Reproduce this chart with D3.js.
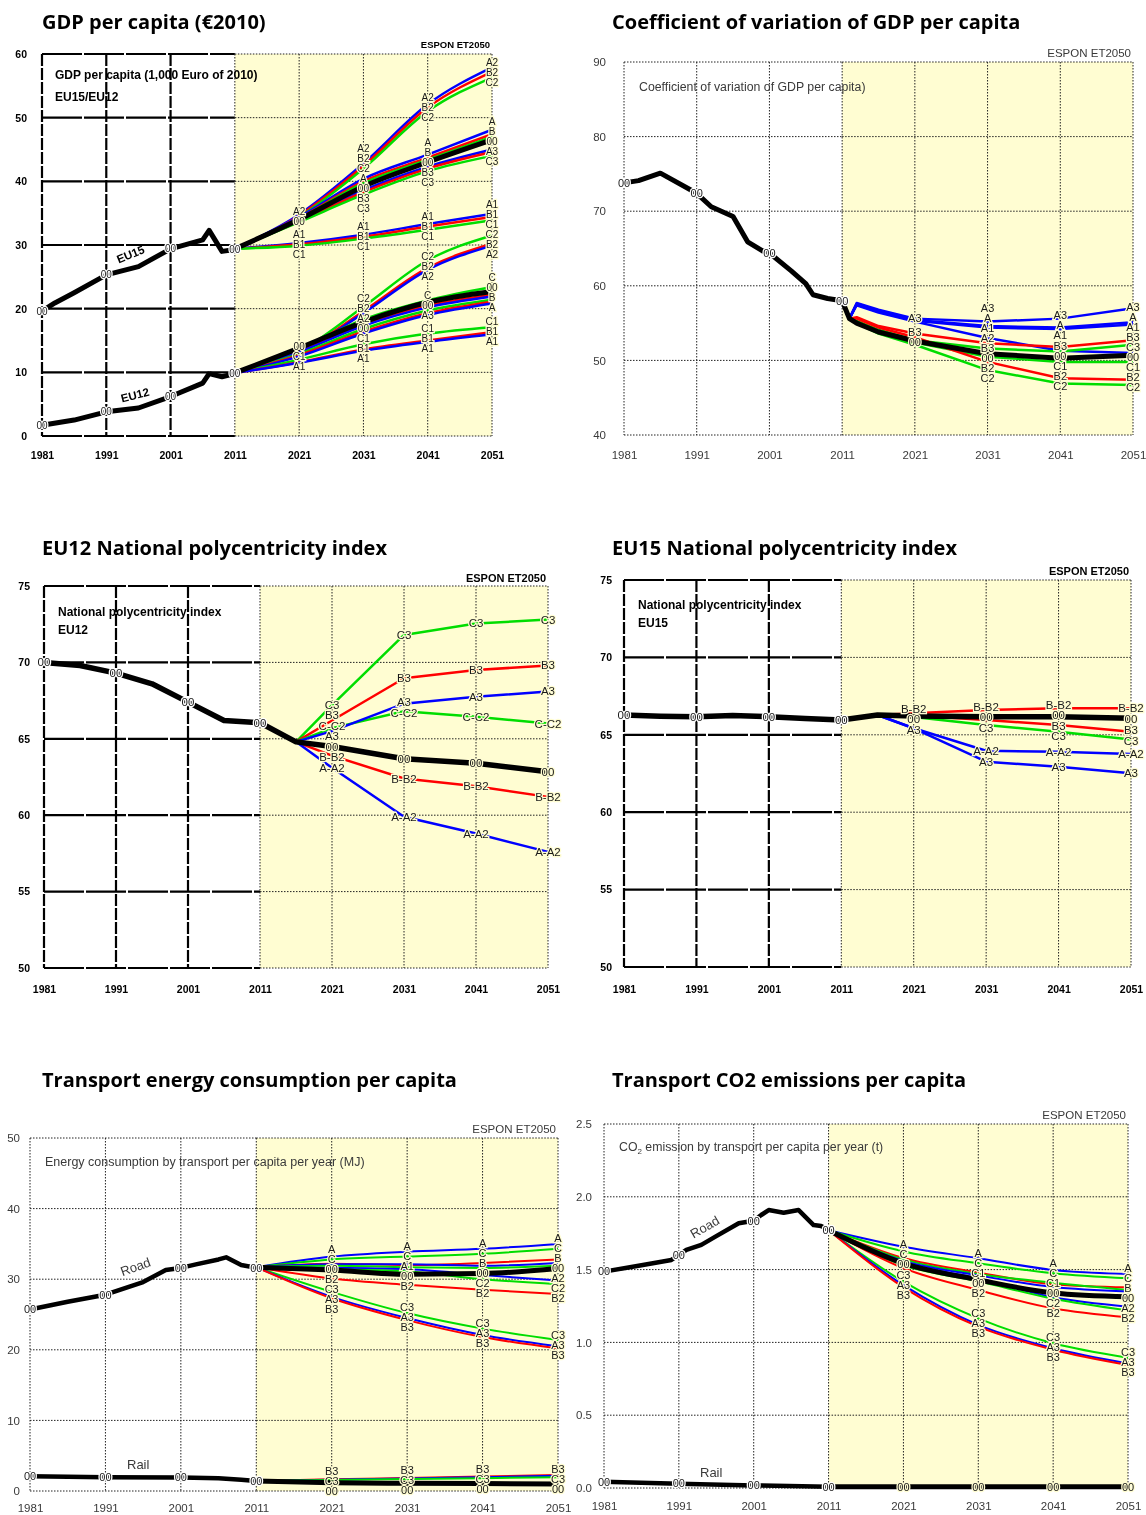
<!DOCTYPE html>
<html>
<head>
<meta charset="utf-8">
<script src="https://cdn.jsdelivr.net/npm/d3@7"></script>
<style>
body{margin:0;background:#fff}
svg{will-change:transform}
svg text{font-family:"Liberation Sans",Arial,sans-serif}
.title{font-family:"Open Sans",sans-serif;font-weight:700;font-size:20px}
</style>
</head>
<body>
<svg id="chart" width="1146" height="1515"></svg>
<script>
// ---- data ----
const decades = [1981, 1991, 2001, 2011, 2021, 2031, 2041, 2051];
const histLabelYears = [1981, 1991, 2001, 2011];
const futYears = [2011, 2021, 2031, 2041, 2051];

// GDP per capita (1,000 Euro of 2010)
const gdpTicks = [0, 10, 20, 30, 40, 50, 60];
const gdpEU15Hist = [[1981,19.6],[1983,20.9],[1986,22.5],[1991,25.3],[1996,26.6],[2001,29.4],[2006,30.8],[2007,32.3],[2009,29.0],[2011,29.3]];
const gdpEU12Hist = [[1981,1.7],[1986,2.5],[1991,3.8],[1996,4.4],[2001,6.2],[2006,8.3],[2007,9.8],[2009,9.3],[2011,9.8]];
const gdpEU15 = [
  {id:"A2", v:[29.4,34.8,42.8,52.1,57.9], at:[2021,2031,2041,2051]},
  {id:"B2", v:[29.4,34.6,42.4,51.6,57.2], at:[2031,2041,2051]},
  {id:"C2", v:[29.4,34.4,42.0,51.0,56.3], at:[2031,2041,2051]},
  {id:"A",  v:[29.4,34.4,40.4,44.2,48.1], at:[2031,2041,2051]},
  {id:"B",  v:[29.4,34.2,40.0,43.7,47.4], at:[2041,2051]},
  {id:"C",  v:[29.4,34.1,39.7,43.4,47.0], at:[]},
  {id:"00", v:[29.4,34.0,39.2,43.0,46.5], at:[2021,2031,2041,2051]},
  {id:"A3", v:[29.4,33.8,38.6,42.3,45.0], at:[2051]},
  {id:"B3", v:[29.4,33.7,38.3,42.0,44.6], at:[2031,2041]},
  {id:"C3", v:[29.4,33.6,37.9,41.6,44.0], at:[2031,2041,2051]},
  {id:"A1", v:[29.4,30.3,31.6,33.3,34.9], at:[2021,2031,2041,2051]},
  {id:"B1", v:[29.4,30.1,31.3,32.9,34.4], at:[2021,2031,2041,2051]},
  {id:"C1", v:[29.4,29.9,31.0,32.4,33.9], at:[2021,2031,2041,2051]}
];
const gdpEU12 = [
  {id:"C2", v:[9.9,13.3,20.3,27.6,31.5], at:[2031,2041,2051]},
  {id:"B2", v:[9.9,13.1,19.6,26.4,30.2], at:[2031,2041,2051]},
  {id:"A2", v:[9.9,13.0,19.3,26.1,29.9], at:[2031,2041,2051]},
  {id:"C",  v:[9.9,13.6,18.3,21.3,23.4], at:[2041,2051]},
  {id:"00", v:[9.9,13.8,17.9,21.0,22.7], at:[2021,2031,2041,2051]},
  {id:"B",  v:[9.9,13.4,17.6,20.5,22.2], at:[2051]},
  {id:"A",  v:[9.9,13.2,17.3,20.2,21.9], at:[2051]},
  {id:"C3", v:[9.9,12.9,16.8,19.7,21.4], at:[]},
  {id:"B3", v:[9.9,12.7,16.4,19.3,21.1], at:[]},
  {id:"A3", v:[9.9,12.5,16.1,19.0,20.8], at:[2041]},
  {id:"C1", v:[9.9,12.0,14.4,16.1,17.1], at:[2021,2031,2041,2051]},
  {id:"B1", v:[9.9,11.6,13.6,15.0,16.3], at:[2031,2041,2051]},
  {id:"A1", v:[9.9,11.5,13.4,14.8,16.0], at:[2021,2031,2041,2051]}
];

// Coefficient of variation of GDP per capita
const cvTicks = [40, 50, 60, 70, 80, 90];
const cvHist = [[1981,73.8],[1983,74.1],[1986,75.1],[1991,72.4],[1993,70.6],[1996,69.3],[1998,65.9],[2000,64.7],[2001,64.4],[2004,62.0],[2006,60.3],[2007,58.8],[2009,58.3],[2011,58.0]];
const cvYears = [2011, 2012, 2013, 2016, 2021, 2031, 2041, 2051];
const cvSeries = [
  {id:"A3", v:[58.0,55.6,57.7,56.8,55.6,55.2,55.6,57.0], at:[2021,2031,2041,2051]},
  {id:"A",  v:[58.0,55.6,57.6,56.6,55.4,54.6,54.4,55.1], at:[2031,2041,2051]},
  {id:"A1", v:[58.0,55.6,57.5,56.5,55.3,54.4,54.2,54.8], at:[2031,2041,2051]},
  {id:"A2", v:[58.0,55.6,57.4,56.4,55.2,53.0,51.3,51.0], at:[2031]},
  {id:"B3", v:[58.0,55.6,55.8,54.6,53.6,52.3,51.8,52.7], at:[2021,2031,2041,2051]},
  {id:"C3", v:[58.0,55.6,55.3,54.1,52.7,51.6,51.2,52.1], at:[2051]},
  {id:"00", v:[58.0,55.6,55.0,53.8,52.6,50.9,50.3,50.7], at:[2021,2031,2041,2051]},
  {id:"C1", v:[58.0,55.6,55.0,53.7,52.4,50.5,49.8,49.8], at:[2041,2051]},
  {id:"B2", v:[58.0,55.6,55.6,54.4,53.1,49.8,47.6,47.4], at:[2031,2041,2051]},
  {id:"C2", v:[58.0,55.6,55.0,53.6,52.1,48.7,46.9,46.7], at:[2031,2041,2051]}
];

// National polycentricity index
const polyTicks = [50, 55, 60, 65, 70, 75];
const polyYears = [2011, 2016, 2021, 2031, 2041, 2051];
const polyEU12Hist = [[1981,70.0],[1986,69.8],[1991,69.3],[1996,68.6],[2001,67.4],[2006,66.2],[2011,66.05]];
const polyEU12 = [
  {id:"C3",   v:[66.05,64.8,67.2,71.8,72.55,72.8], at:[2021,2031,2041,2051]},
  {id:"B3",   v:[66.05,64.8,66.2,68.96,69.5,69.8], at:[2021,2031,2041,2051]},
  {id:"C-C2", v:[66.05,64.8,65.7,66.8,66.45,66.0], at:[2021,2031,2041,2051]},
  {id:"A3",   v:[66.05,64.8,65.5,67.3,67.75,68.1], at:[2021,2031,2041,2051]},
  {id:"00",   v:[66.05,64.8,64.5,63.7,63.4,62.85], at:[2021,2031,2041,2051]},
  {id:"B-B2", v:[66.05,64.8,63.9,62.4,61.9,61.2], at:[2021,2031,2041,2051]},
  {id:"A-A2", v:[66.05,64.8,63.1,59.9,58.8,57.6], at:[2021,2031,2041,2051]}
];
const polyEU15Hist = [[1981,66.28],[1986,66.2],[1991,66.17],[1996,66.25],[2001,66.17],[2006,66.05],[2011,65.96]];
const polyEU15 = [
  {id:"B-B2", v:[65.96,66.28,66.39,66.6,66.71,66.71], at:[2021,2031,2041,2051]},
  {id:"00",   v:[65.96,66.28,66.21,66.17,66.17,66.07], at:[2021,2031,2041,2051]},
  {id:"B3",   v:[65.96,66.28,66.25,65.96,65.63,65.2], at:[2041,2051]},
  {id:"C3",   v:[65.96,66.28,66.15,65.63,65.2,64.7], at:[2031,2041,2051]},
  {id:"A-A2", v:[65.96,66.28,65.42,63.97,63.9,63.76], at:[2031,2041,2051]},
  {id:"A3",   v:[65.96,66.28,65.42,63.26,62.94,62.51], at:[2021,2031,2041,2051]}
];

// Transport energy consumption per capita per year (MJ)
const energyTicks = [0, 10, 20, 30, 40, 50];
const energyRoadHist = [[1981,25.7],[1986,26.8],[1991,27.8],[1996,29.6],[1999,31.3],[2001,31.6],[2003,32.1],[2006,32.8],[2007,33.1],[2009,32.0],[2011,31.6]];
const energyRailHist = [[1981,2.1],[1991,1.95],[2001,1.9],[2006,1.8],[2009,1.6],[2011,1.42]];
const energyRoad = [
  {id:"A",  v:[31.7,33.2,33.9,34.3,35.0], at:[2021,2031,2041,2051]},
  {id:"C",  v:[31.7,32.8,33.2,33.6,34.3], at:[2021,2031,2041,2051]},
  {id:"B",  v:[31.7,32.2,32.0,32.3,32.8], at:[2041,2051]},
  {id:"A1", v:[31.7,32.1,32.1,31.9,32.3], at:[2031]},
  {id:"C1", v:[31.7,31.9,31.7,31.6,31.9], at:[]},
  {id:"00", v:[31.7,31.3,30.7,30.8,31.5], at:[2021,2031,2041,2051]},
  {id:"A2", v:[31.7,31.6,31.4,30.6,29.8], at:[2051]},
  {id:"C2", v:[31.7,31.4,31.1,30.0,29.3], at:[2041,2051]},
  {id:"B2", v:[31.7,30.1,29.2,28.5,27.9], at:[2021,2031,2041,2051]},
  {id:"C3", v:[31.7,28.2,25.2,23.0,21.4], at:[2021,2031,2041,2051]},
  {id:"A3", v:[31.7,27.5,24.5,22.1,20.5], at:[2021,2031,2041,2051]},
  {id:"B3", v:[31.7,27.3,24.2,21.8,20.2], at:[2021,2031,2041,2051]}
];
const energyRail = [
  {id:"B3", v:[1.42,1.65,1.85,2.05,2.27], at:[2021,2031,2041,2051]},
  {id:"A3", v:[1.42,1.6,1.78,1.95,2.15], at:[]},
  {id:"C3", v:[1.42,1.55,1.7,1.82,1.95], at:[2021,2031,2041,2051]},
  {id:"00", v:[1.42,1.18,1.1,1.05,1.0], at:[2021,2031,2041,2051]}
];

// Transport CO2 emissions per capita per year (t)
const co2Ticks = [0, 0.5, 1.0, 1.5, 2.0, 2.5];
const co2RoadHist = [[1981,1.486],[1986,1.53],[1990,1.566],[1991,1.6],[1992,1.635],[1994,1.67],[1996,1.73],[1999,1.818],[2001,1.836],[2002,1.875],[2003,1.909],[2005,1.89],[2007,1.909],[2009,1.806],[2010,1.8],[2011,1.772]];
const co2RailHist = [[1981,0.043],[1991,0.03],[2001,0.018],[2011,0.008]];
const co2Road = [
  {id:"A",  v:[1.77,1.657,1.578,1.497,1.47], at:[2021,2031,2041,2051]},
  {id:"C",  v:[1.77,1.625,1.543,1.475,1.44], at:[2021,2031,2041,2051]},
  {id:"B",  v:[1.77,1.58,1.48,1.40,1.378], at:[2051]},
  {id:"C1", v:[1.77,1.57,1.47,1.41,1.36], at:[2031,2041]},
  {id:"A1", v:[1.77,1.56,1.46,1.38,1.35], at:[]},
  {id:"00", v:[1.77,1.543,1.43,1.34,1.314], at:[2021,2031,2041,2051]},
  {id:"A2", v:[1.77,1.55,1.44,1.31,1.245], at:[2051]},
  {id:"C2", v:[1.77,1.53,1.42,1.30,1.22], at:[2041]},
  {id:"B2", v:[1.77,1.51,1.36,1.234,1.172], at:[2031,2041,2051]},
  {id:"C3", v:[1.77,1.417,1.165,0.994,0.895], at:[2021,2031,2041,2051]},
  {id:"A3", v:[1.77,1.393,1.12,0.96,0.856], at:[2021,2031,2041,2051]},
  {id:"B3", v:[1.77,1.378,1.108,0.95,0.845], at:[2021,2031,2041,2051]}
];
const co2Rail = [
  {id:"00", v:[0.008,0.008,0.008,0.008,0.008], at:[2021,2031,2041,2051]}
];

// ---- drawing ----
const svg = d3.select("#chart");
const YELLOW = "#fffdd2";
const colorOf = d3.scaleOrdinal().domain(["A","B","C","0"]).range(["#0000ff","#ff0000","#00dd00","#000000"]);

// push labels of one decade column apart so that they stack like the original
function spread(items, gap) {
  items.sort((a, b) => (a.y - b.y) || (a.order - b.order));
  let clusters = items.map(d => ({items: [d], c: d.y}));
  const top = c => c.c - (c.items.length - 1) * gap / 2;
  const bot = c => c.c + (c.items.length - 1) * gap / 2;
  let changed = true;
  while (changed) {
    changed = false;
    for (let i = 0; i < clusters.length - 1; i++) {
      if (bot(clusters[i]) + gap > top(clusters[i + 1])) {
        const its = clusters[i].items.concat(clusters[i + 1].items);
        clusters.splice(i, 2, {items: its, c: d3.mean(its, d => d.y)});
        changed = true;
        break;
      }
    }
  }
  clusters.forEach(c => c.items.forEach((d, i) => d.ly = top(c) + i * gap));
}

function drawPanel(cfg) {
  const g = svg.append("g");
  const x = d3.scaleLinear().domain([1981, 2051]).range([cfg.left, cfg.right]);
  const y = d3.scaleLinear().domain(cfg.yDomain).range([cfg.bottom, cfg.top]);
  const xs = x(2011);
  const textCol = cfg.bold ? "#000" : "#3a3a3a";

  g.append("rect")
    .attr("x", xs).attr("y", cfg.top)
    .attr("width", cfg.right - xs).attr("height", cfg.bottom - cfg.top)
    .attr("fill", YELLOW);

  const dot = {c: "#222", w: 1, d: "1.5,1.5"};
  const histH = cfg.bold ? {c: "#000", w: 2.2, d: "40,2"} : dot;
  const histV = cfg.bold ? {c: "#000", w: 2.2, d: "12,2"} : dot;
  const style = (sel, s) => sel.attr("stroke", s.c).attr("stroke-width", s.w)
    .attr("stroke-dasharray", s.d).attr("fill", "none");

  style(g.selectAll(".hgl").data(cfg.yTicks).join("line")
    .attr("x1", cfg.left).attr("x2", xs).attr("y1", d => y(d)).attr("y2", d => y(d)), histH);
  style(g.selectAll(".hgr").data(cfg.yTicks).join("line")
    .attr("x1", xs).attr("x2", cfg.right).attr("y1", d => y(d)).attr("y2", d => y(d)), dot);
  style(g.selectAll(".vgl").data(decades.filter(d => d < 2011)).join("line")
    .attr("x1", d => x(d)).attr("x2", d => x(d)).attr("y1", cfg.top).attr("y2", cfg.bottom), histV);
  style(g.selectAll(".vgr").data(decades.filter(d => d >= 2011)).join("line")
    .attr("x1", d => x(d)).attr("x2", d => x(d)).attr("y1", cfg.top).attr("y2", cfg.bottom), dot);

  const styleTicks = ax => {
    ax.select(".domain").remove();
    ax.selectAll("text")
      .attr("font-family", '"Liberation Sans", Arial, sans-serif')
      .attr("font-size", cfg.tickSize)
      .attr("font-weight", cfg.bold ? 700 : 400)
      .attr("fill", textCol);
  };
  g.append("g").attr("transform", `translate(${cfg.left},0)`)
    .call(d3.axisLeft(y).tickValues(cfg.yTicks).tickSize(0).tickPadding(cfg.yPad)
      .tickFormat(cfg.yFmt || d3.format("d")))
    .call(styleTicks);
  g.append("g").attr("transform", `translate(0,${cfg.bottom})`)
    .call(d3.axisBottom(x).tickValues(decades).tickSize(0).tickPadding(cfg.xPad)
      .tickFormat(d3.format("d")))
    .call(styleTicks);

  const futLine = d3.line().x(d => x(d[0])).y(d => y(d[1])).curve(cfg.curve || d3.curveLinear);
  const histLine = d3.line().x(d => x(d[0])).y(d => y(d[1]));

  const rows = [];
  cfg.groups.forEach(gr => gr.series.forEach((s, i) => {
    rows.push({s, years: gr.years, order: i, pts: gr.years.map((yr, j) => [yr, s.v[j]])});
  }));

  g.selectAll(".col").data(rows.filter(r => r.s.id !== "00")).join("path")
    .attr("d", r => futLine(r.pts)).attr("fill", "none")
    .attr("stroke", r => colorOf(r.s.id[0])).attr("stroke-width", cfg.colW)
    .attr("stroke-linejoin", "round");
  g.selectAll(".hist").data(cfg.hist).join("path")
    .attr("d", h => histLine(h)).attr("fill", "none")
    .attr("stroke", "#000").attr("stroke-width", cfg.histW).attr("stroke-linejoin", "round");
  g.selectAll(".blk").data(rows.filter(r => r.s.id === "00")).join("path")
    .attr("d", r => futLine(r.pts)).attr("fill", "none")
    .attr("stroke", "#000").attr("stroke-width", cfg.blackW).attr("stroke-linejoin", "round");

  // scenario labels at the decade points
  const labs = [];
  rows.forEach(r => r.s.at.forEach(yr => {
    labs.push({text: r.s.id, x: x(yr), y: y(r.s.v[r.years.indexOf(yr)]), order: r.order});
  }));
  d3.groups(labs, d => d.x).forEach(([k, items]) => spread(items, cfg.labelGap));
  g.selectAll(".flab").data(labs).join("text")
    .attr("x", d => d.x).attr("y", d => d.ly).attr("dy", "0.35em")
    .attr("text-anchor", "middle").attr("font-size", cfg.labelSize).attr("fill", "#1a1a1a")
    .attr("stroke", YELLOW).attr("stroke-width", 2.5).attr("paint-order", "stroke")
    .text(d => d.text);

  const hl = [];
  cfg.hist.forEach(h => histLabelYears.forEach(yr => {
    const p = h.find(d => d[0] === yr);
    if (p) hl.push({x: x(yr), y: y(p[1])});
  }));
  g.selectAll(".hlab").data(hl).join("text")
    .attr("x", d => d.x).attr("y", d => d.y).attr("dy", "0.35em")
    .attr("text-anchor", "middle").attr("font-size", cfg.labelSize).attr("fill", "#1a1a1a")
    .attr("stroke", "#fff").attr("stroke-width", 2.5).attr("paint-order", "stroke")
    .text("00");

  // texts
  svg.append("text").attr("class", "title").attr("x", cfg.titleX).attr("y", cfg.titleY).text(cfg.title);
  g.append("text").attr("x", cfg.right - 2).attr("y", cfg.espon[1])
    .attr("text-anchor", "end").attr("font-size", cfg.espon[0])
    .attr("font-weight", cfg.bold ? 700 : 400).attr("fill", textCol).text("ESPON ET2050");
  cfg.notes.forEach(n => {
    const t = g.append("text").attr("x", n.x).attr("y", n.y)
      .attr("font-size", n.size).attr("font-weight", cfg.bold ? 700 : 400)
      .attr("fill", textCol);
    if (n.rot) t.attr("transform", `rotate(${n.rot},${n.x},${n.y})`).attr("text-anchor", "middle");
    if (n.sub) {
      t.append("tspan").text(n.text[0]);
      t.append("tspan").attr("font-size", n.size * 0.65).attr("dy", 3).text(n.sub);
      t.append("tspan").attr("dy", -3).text(n.text[1]);
    } else t.text(n.text);
  });
}

drawPanel({
  title: "GDP per capita (€2010)", titleX: 42, titleY: 29,
  left: 42, right: 492, top: 54, bottom: 436, yDomain: [0, 60], yTicks: gdpTicks,
  bold: true, tickSize: 10.5, yPad: 15, xPad: 16, curve: d3.curveMonotoneX,
  colW: 2.5, blackW: 5, histW: 5, labelSize: 10, labelGap: 10,
  hist: [gdpEU15Hist, gdpEU12Hist],
  groups: [{years: futYears, series: gdpEU15}, {years: futYears, series: gdpEU12}],
  espon: [9.5, 48],
  notes: [
    {text: "GDP per capita (1,000 Euro of 2010)", x: 55, y: 79, size: 12},
    {text: "EU15/EU12", x: 55, y: 101, size: 12},
    {text: "EU15", x: 132, y: 258, size: 11.5, rot: -22},
    {text: "EU12", x: 136, y: 399, size: 11.5, rot: -14}
  ]
});

drawPanel({
  title: "Coefficient of variation of GDP per capita", titleX: 612, titleY: 29,
  left: 624, right: 1133, top: 62, bottom: 435, yDomain: [40, 90], yTicks: cvTicks,
  bold: false, tickSize: 11.5, yPad: 18, xPad: 16,
  colW: 2.5, blackW: 5, histW: 5, labelSize: 11, labelGap: 10,
  hist: [cvHist],
  groups: [{years: cvYears, series: cvSeries}],
  espon: [11.5, 57],
  notes: [{text: "Coefficient of variation of GDP per capita)", x: 639, y: 91, size: 12.3}]
});

drawPanel({
  title: "EU12 National polycentricity index", titleX: 42, titleY: 555,
  left: 44, right: 548, top: 586, bottom: 968, yDomain: [50, 75], yTicks: polyTicks,
  bold: true, tickSize: 10.5, yPad: 14, xPad: 18,
  colW: 2.5, blackW: 5.5, histW: 5.5, labelSize: 11.5, labelGap: 10.5,
  hist: [polyEU12Hist],
  groups: [{years: polyYears, series: polyEU12}],
  espon: [11, 582],
  notes: [
    {text: "National polycentricity index", x: 58, y: 616, size: 12},
    {text: "EU12", x: 58, y: 634, size: 12}
  ]
});

drawPanel({
  title: "EU15 National polycentricity index", titleX: 612, titleY: 555,
  left: 624, right: 1131, top: 580, bottom: 967, yDomain: [50, 75], yTicks: polyTicks,
  bold: true, tickSize: 10.5, yPad: 12, xPad: 19,
  colW: 2.5, blackW: 5.5, histW: 5.5, labelSize: 11.5, labelGap: 10.5,
  hist: [polyEU15Hist],
  groups: [{years: polyYears, series: polyEU15}],
  espon: [11, 575],
  notes: [
    {text: "National polycentricity index", x: 638, y: 609, size: 12},
    {text: "EU15", x: 638, y: 627, size: 12}
  ]
});

drawPanel({
  title: "Transport energy consumption per capita", titleX: 42, titleY: 1087,
  left: 30, right: 558, top: 1138, bottom: 1491, yDomain: [0, 50], yTicks: energyTicks,
  bold: false, tickSize: 11.5, yPad: 10, xPad: 13, curve: d3.curveMonotoneX,
  colW: 2, blackW: 5, histW: 4.5, labelSize: 11, labelGap: 10,
  hist: [energyRoadHist, energyRailHist],
  groups: [{years: futYears, series: energyRoad}, {years: futYears, series: energyRail}],
  espon: [11.5, 1133],
  notes: [
    {text: "Energy consumption by transport per capita per year (MJ)", x: 45, y: 1166, size: 12.5},
    {text: "Road", x: 137, y: 1271, size: 13, rot: -20},
    {text: "Rail", x: 127, y: 1469, size: 13}
  ]
});

drawPanel({
  title: "Transport CO2 emissions per capita", titleX: 612, titleY: 1087,
  left: 604, right: 1128, top: 1124, bottom: 1488, yDomain: [0, 2.5], yTicks: co2Ticks,
  yFmt: d3.format(".1f"),
  bold: false, tickSize: 11.5, yPad: 12, xPad: 14, curve: d3.curveMonotoneX,
  colW: 2, blackW: 5, histW: 4.5, labelSize: 11, labelGap: 10,
  hist: [co2RoadHist, co2RailHist],
  groups: [{years: futYears, series: co2Road}, {years: futYears, series: co2Rail}],
  espon: [11.5, 1119],
  notes: [
    {text: ["CO", " emission by transport per capita per year (t)"], sub: "2", x: 619, y: 1151, size: 12.3},
    {text: "Road", x: 707, y: 1231, size: 13, rot: -30},
    {text: "Rail", x: 700, y: 1477, size: 13}
  ]
});
</script>
</body>
</html>
